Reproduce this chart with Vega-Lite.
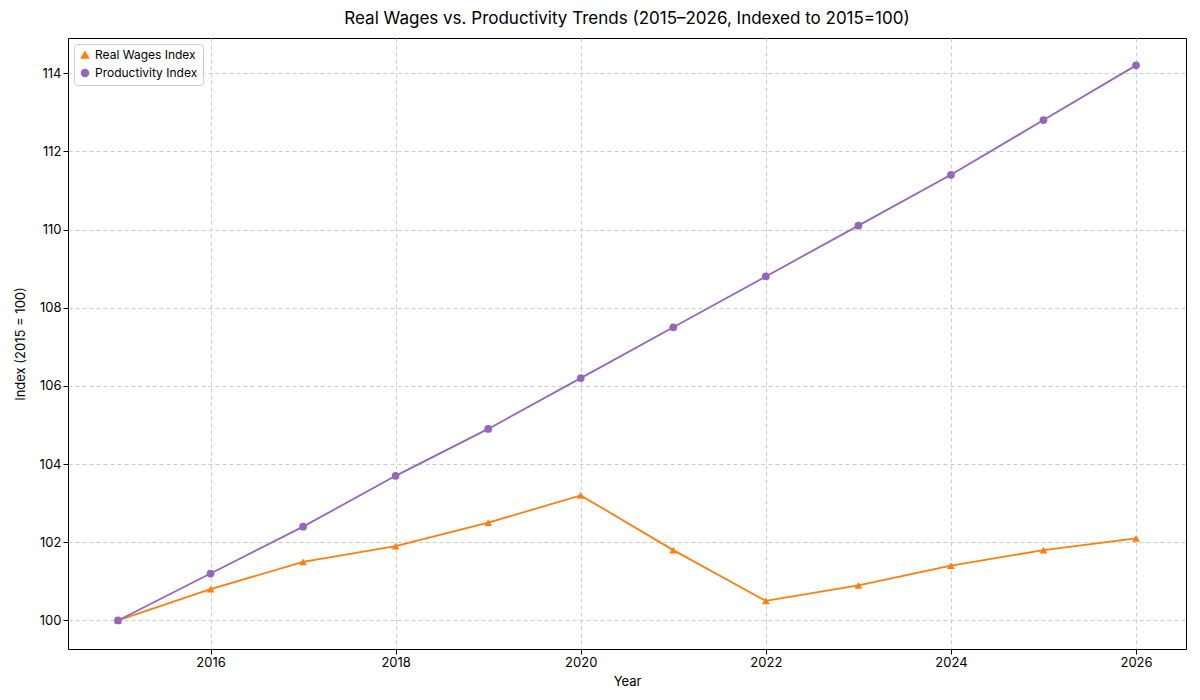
{
  "$schema": "https://vega.github.io/schema/vega-lite/v6.json",
  "width": 1200,
  "height": 700,
  "autosize": {"type": "fit", "contains": "padding"},
  "padding": {"left": 14, "right": 14, "top": 10, "bottom": 12},
  "background": "white",
  "config": {
    "font": "Inter",
    "view": {"stroke": "#000", "strokeWidth": 1},
    "axis": {"gridDash": [4, 3], "gridColor": "#cccccc", "domain": false, "tickColor": "#000", "labelColor": "#000", "labelFontSize": 13, "titleFontSize": 13, "titleFontWeight": "normal", "titleColor": "#000"}
  },
  "title": {"text": "Real Wages vs. Productivity Trends (2015\u20132026, Indexed to 2015=100)", "fontSize": 17, "fontWeight": "normal", "color": "#000", "offset": 10},
  "data": {
    "values": [
      {"year": 2015, "series": "Real Wages Index", "value": 100.0},
      {"year": 2016, "series": "Real Wages Index", "value": 100.8},
      {"year": 2017, "series": "Real Wages Index", "value": 101.5},
      {"year": 2018, "series": "Real Wages Index", "value": 101.9},
      {"year": 2019, "series": "Real Wages Index", "value": 102.5},
      {"year": 2020, "series": "Real Wages Index", "value": 103.2},
      {"year": 2021, "series": "Real Wages Index", "value": 101.8},
      {"year": 2022, "series": "Real Wages Index", "value": 100.5},
      {"year": 2023, "series": "Real Wages Index", "value": 100.9},
      {"year": 2024, "series": "Real Wages Index", "value": 101.4},
      {"year": 2025, "series": "Real Wages Index", "value": 101.8},
      {"year": 2026, "series": "Real Wages Index", "value": 102.1},
      {"year": 2015, "series": "Productivity Index", "value": 100.0},
      {"year": 2016, "series": "Productivity Index", "value": 101.2},
      {"year": 2017, "series": "Productivity Index", "value": 102.4},
      {"year": 2018, "series": "Productivity Index", "value": 103.7},
      {"year": 2019, "series": "Productivity Index", "value": 104.9},
      {"year": 2020, "series": "Productivity Index", "value": 106.2},
      {"year": 2021, "series": "Productivity Index", "value": 107.5},
      {"year": 2022, "series": "Productivity Index", "value": 108.8},
      {"year": 2023, "series": "Productivity Index", "value": 110.1},
      {"year": 2024, "series": "Productivity Index", "value": 111.4},
      {"year": 2025, "series": "Productivity Index", "value": 112.8},
      {"year": 2026, "series": "Productivity Index", "value": 114.2}
    ]
  },
  "encoding": {
    "x": {"field": "year", "type": "quantitative", "title": "Year",
      "scale": {"domain": [2014.46, 2026.54], "nice": false, "zero": false},
      "axis": {"values": [2016, 2018, 2020, 2022, 2024, 2026], "format": "d", "titlePadding": 6}},
    "y": {"field": "value", "type": "quantitative", "title": "Index (2015 = 100)",
      "scale": {"domain": [99.27, 114.9], "nice": false, "zero": false},
      "axis": {"values": [100, 102, 104, 106, 108, 110, 112, 114], "titlePadding": 12}},
    "color": {"field": "series", "type": "nominal",
      "scale": {"domain": ["Real Wages Index", "Productivity Index"], "range": ["#ff7f0e", "#9467bd"]},
      "legend": {"title": null, "orient": "top-left", "offset": 6, "labelFontSize": 12, "strokeColor": "#ccc", "fillColor": "white", "padding": 5, "cornerRadius": 3, "symbolSize": 50, "rowPadding": 4}}
  },
  "layer": [
    {"mark": {"type": "line", "strokeWidth": 1.8}},
    {"mark": {"type": "point", "filled": true, "size": 60, "opacity": 1},
      "encoding": {
        "shape": {"field": "series", "type": "nominal",
          "scale": {"domain": ["Real Wages Index", "Productivity Index"], "range": ["triangle-up", "circle"]},
          "legend": null}
      }}
  ]
}
